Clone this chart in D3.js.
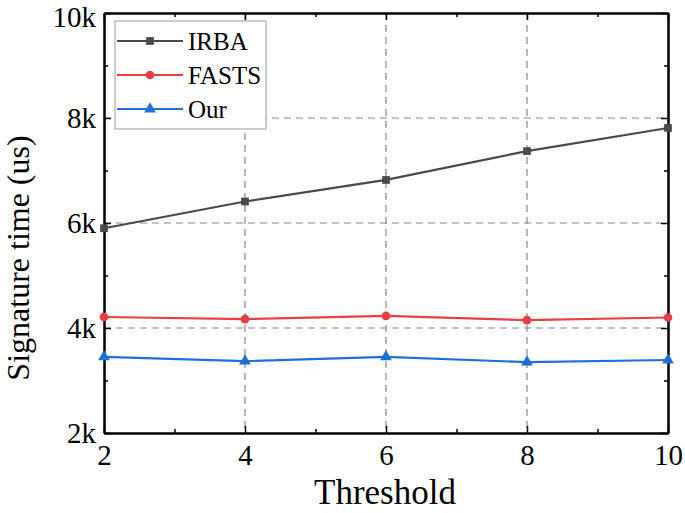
<!DOCTYPE html>
<html><head><meta charset="utf-8">
<script src="https://cdn.jsdelivr.net/npm/d3@7"></script>
<style>body{margin:0;background:#fff}svg{display:block}</style>
</head><body>
<svg id="c" width="685" height="513"></svg>
<script>
const thresholds = [2, 4, 6, 8, 10];
const irba  = [5900, 6410, 6820, 7370, 7810];
const fasts = [4210, 4170, 4230, 4150, 4200];
const our   = [3450, 3370, 3450, 3350, 3390];
const seriesNames = ["IRBA", "FASTS", "Our"];
const seriesColors = ["#4a4a4a", "#e83f45", "#1f6fd8"];
const xTicks = [2, 4, 6, 8, 10];
const xMinor = [3, 5, 7, 9];
const yTicks = [2000, 4000, 6000, 8000, 10000];
const yMinor = [3000, 5000, 7000, 9000];
const yTickLabels = ["2k", "4k", "6k", "8k", "10k"];

const svg = d3.select("#c");
const L = 104, R = 668, T = 13, B = 433;
const font = "Liberation Serif, serif";
const x = d3.scaleLinear().domain([2, 10]).range([L, R]);
const y = d3.scaleLinear().domain([2000, 10000]).range([B, T]);

// grid
const g = svg.append("g");
g.selectAll(".gx").data(xTicks.slice(1, -1)).join("line")
  .attr("x1", d => x(d)).attr("x2", d => x(d)).attr("y1", T).attr("y2", B)
  .attr("stroke", "#888").attr("stroke-width", 1.2).attr("stroke-dasharray", "7,5");
g.selectAll(".gy").data(yTicks.slice(1, -1)).join("line")
  .attr("y1", d => y(d)).attr("y2", d => y(d)).attr("x1", L).attr("x2", R)
  .attr("stroke", "#888").attr("stroke-width", 1.2).attr("stroke-dasharray", "7,5");

// axes (inside ticks, mirrored)
const ax = (gen, tr) => svg.append("g").attr("transform", tr).call(gen)
  .call(s => s.select(".domain").attr("stroke", "#000").attr("stroke-width", 2));
function styleTicks(s) { s.selectAll(".tick line").attr("stroke", "#000").attr("stroke-width", 1.5); }

const xb = ax(d3.axisBottom(x).tickValues(xTicks).tickSize(-7).tickSizeOuter(0).tickPadding(11).tickFormat(d3.format("d")), `translate(0,${B})`);
xb.call(styleTicks).selectAll("text").attr("font-family", font).attr("font-size", 29).attr("fill", "#000");
ax(d3.axisBottom(x).tickValues(xMinor).tickSize(-4).tickSizeOuter(0).tickFormat(""), `translate(0,${B})`).call(styleTicks);
ax(d3.axisTop(x).tickValues(xTicks).tickSize(-7).tickSizeOuter(0).tickFormat(""), `translate(0,${T})`).call(styleTicks);
ax(d3.axisTop(x).tickValues(xMinor).tickSize(-4).tickSizeOuter(0).tickFormat(""), `translate(0,${T})`).call(styleTicks);

const yl = ax(d3.axisLeft(y).tickValues(yTicks).tickSize(-7).tickSizeOuter(0).tickPadding(8).tickFormat((d, i) => yTickLabels[i]), `translate(${L},0)`);
yl.call(styleTicks).selectAll("text").attr("font-family", font).attr("font-size", 29).attr("fill", "#000");
yl.selectAll(".tick").filter(d => d === 10000).select("text").attr("dy", "0.45em");
ax(d3.axisLeft(y).tickValues(yMinor).tickSize(-4).tickSizeOuter(0).tickFormat(""), `translate(${L},0)`).call(styleTicks);
ax(d3.axisRight(y).tickValues(yTicks).tickSize(-7).tickSizeOuter(0).tickFormat(""), `translate(${R},0)`).call(styleTicks);
ax(d3.axisRight(y).tickValues(yMinor).tickSize(-4).tickSizeOuter(0).tickFormat(""), `translate(${R},0)`).call(styleTicks);

// titles
svg.append("text").attr("x", 385).attr("y", 504).attr("text-anchor", "middle")
  .attr("font-family", font).attr("font-size", 35).text("Threshold");
svg.append("text").attr("transform", `translate(29,258) rotate(-90)`).attr("text-anchor", "middle")
  .attr("font-family", font).attr("font-size", 32).text("Signature time (us)");

// series
const data = [irba, fasts, our];
const line = d3.line().x((d, i) => x(thresholds[i])).y(d => y(d));
const sym = [d3.symbolSquare, d3.symbolCircle, d3.symbolTriangle];
data.forEach((vals, k) => {
  svg.append("path").datum(vals).attr("d", line).attr("fill", "none")
    .attr("stroke", seriesColors[k]).attr("stroke-width", 2.2);
  svg.selectAll(".m" + k).data(vals).join("path")
    .attr("transform", (d, i) => `translate(${x(thresholds[i])},${y(d)})`)
    .attr("d", d3.symbol(sym[k], 60)).attr("fill", seriesColors[k]);
});

// legend
const lg = svg.append("g");
lg.append("rect").attr("x", 115).attr("y", 21).attr("width", 151).attr("height", 108)
  .attr("fill", "#fff").attr("stroke", "#999").attr("stroke-width", 1);
seriesNames.forEach((n, k) => {
  const yy = 41 + k * 34;
  lg.append("line").attr("x1", 117).attr("x2", 183).attr("y1", yy).attr("y2", yy)
    .attr("stroke", seriesColors[k]).attr("stroke-width", 2.2);
  lg.append("path").attr("transform", `translate(150,${yy})`).attr("d", d3.symbol(sym[k], 60)).attr("fill", seriesColors[k]);
  lg.append("text").attr("x", 188).attr("y", yy + 9).attr("font-family", font).attr("font-size", 25).text(n);
});
</script>
</body></html>
